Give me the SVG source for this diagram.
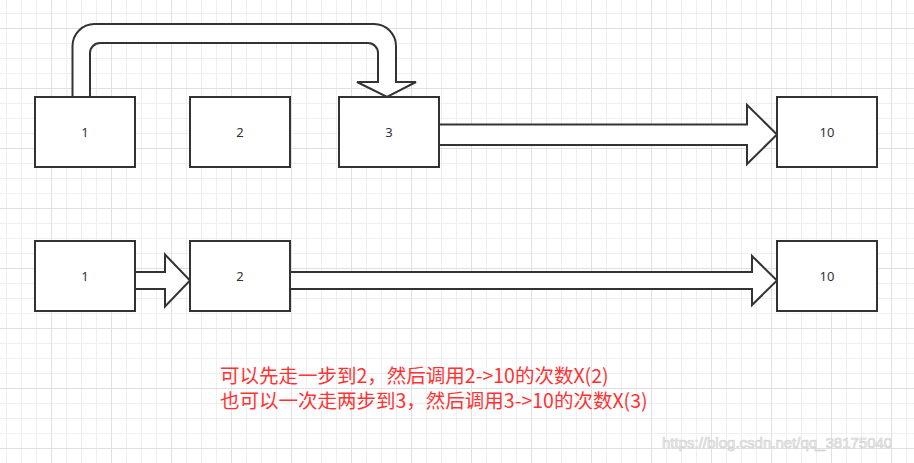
<svg xmlns="http://www.w3.org/2000/svg" width="914" height="463" viewBox="0 0 914 463">
  <defs>
    <pattern id="grid" patternUnits="userSpaceOnUse" x="-9" y="-32" width="60" height="60">
      <path d="M15.5 0V60M30.5 0V60M45.5 0V60M0 15.5H60M0 30.5H60M0 45.5H60" stroke="#efefef" stroke-width="1" fill="none"/>
      <path d="M0.5 0V60M0 0.5H60" stroke="#e0e0e0" stroke-width="1" fill="none"/>
    </pattern>
    <style>
      .box { fill: #ffffff; stroke: #333333; stroke-width: 2; }
      .arrow { fill: #ffffff; stroke: #333333; stroke-width: 2; stroke-linejoin: miter; }
      .lbl { font-family: "Noto Sans", "Liberation Sans", sans-serif; font-size: 13px; fill: #333333; text-anchor: middle; }
      .note { font-family: "Noto Sans CJK SC", "Noto Sans", sans-serif; font-size: 19.5px; fill: #ff3333; }
      .wm { font-family: "Liberation Sans", Arial, sans-serif; font-size: 15px; fill: #f4f4f4; stroke: #d2d2d2; stroke-width: 0.7; }
    </style>
  </defs>
  <rect x="0" y="0" width="914" height="463" fill="#ffffff"/>
  <rect x="0" y="0" width="914" height="463" fill="url(#grid)"/>

  <g id="connectors">
    <path class="arrow" d="M72.5 97 V46 A22 22 0 0 1 94.5 24 H374 A22 22 0 0 1 396 46 V82 H416 L387 97 L357 82 H378 V53 A10 10 0 0 0 368 43 H100 A10 10 0 0 0 90 53 V97"/>
    <path class="arrow" d="M439 124.5 H747 V105 L777 134.5 L747 164 V145 H439"/>
    <path class="arrow" d="M135 272 H165 V254.5 L190 280.5 L165 306.5 V289 H135"/>
    <path class="arrow" d="M290 272 H752 V256 L777 280.5 L752 305 V289 H290"/>
  </g>

  <g id="node-top-1">
    <rect class="box" x="35" y="97" width="100" height="70"/>
    <text class="lbl" x="85" y="136.5">1</text>
  </g>
  <g id="node-top-2">
    <rect class="box" x="190" y="97" width="100" height="70"/>
    <text class="lbl" x="240" y="136.5">2</text>
  </g>
  <g id="node-top-3">
    <rect class="box" x="339" y="97" width="100" height="70"/>
    <text class="lbl" x="389" y="136.5">3</text>
  </g>
  <g id="node-top-10">
    <rect class="box" x="777" y="97" width="100" height="70"/>
    <text class="lbl" x="827" y="136.5">10</text>
  </g>

  <g id="node-bottom-1">
    <rect class="box" x="35" y="241" width="100" height="70"/>
    <text class="lbl" x="85" y="280.5">1</text>
  </g>
  <g id="node-bottom-2">
    <rect class="box" x="190" y="241" width="100" height="70"/>
    <text class="lbl" x="240" y="280.5">2</text>
  </g>
  <g id="node-bottom-10">
    <rect class="box" x="777" y="241" width="100" height="70"/>
    <text class="lbl" x="827" y="280.5">10</text>
  </g>

  <g id="note">
    <text class="note" x="220" y="383">可以先走一步到2，然后调用2-&gt;10的次数X(2)</text>
    <text class="note" x="220" y="408">也可以一次走两步到3，然后调用3-&gt;10的次数X(3)</text>
  </g>

  <text class="wm" x="662" y="448">https://blog.csdn.net/qq_38175040</text>
</svg>
